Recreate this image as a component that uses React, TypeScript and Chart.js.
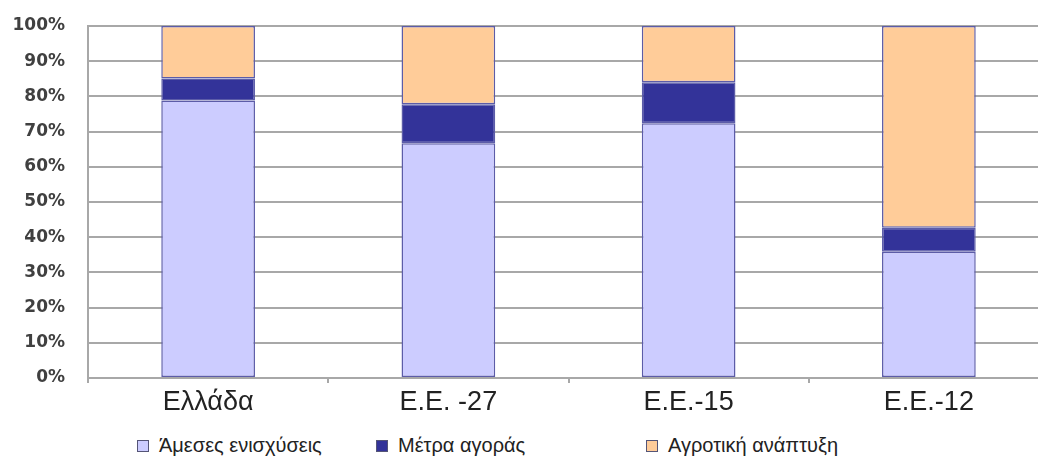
import React, { useEffect, useRef } from "react";
import { Chart, registerables } from "chart.js";
Chart.register(...registerables);

const categories = ["Ελλάδα", "Ε.Ε. -27", "Ε.Ε.-15", "Ε.Ε.-12"];
const seriesNames = ["Άμεσες ενισχύσεις", "Μέτρα αγοράς", "Αγροτική ανάπτυξη"];
const directSupport = [78.8, 66.7, 72.4, 35.9];
const marketMeasures = [6.3, 11.1, 11.6, 6.8];
const ruralDevelopment = [14.9, 22.2, 16.0, 57.3];
const yTicks = [0, 10, 20, 30, 40, 50, 60, 70, 80, 90, 100];

const colors = ["#ccccff", "#333399", "#ffcc99"];
const GRID = "#a8a8a8";
const NARROW = '"Liberation Sans Narrow", "Arial Narrow", "Liberation Sans", Arial, sans-serif';

export default function App() {
  const ref = useRef<HTMLCanvasElement | null>(null);
  useEffect(() => {
    document.body.style.margin = "0";
    document.body.style.overflow = "hidden";
    const ctx = ref.current!;
    const values = [directSupport, marketMeasures, ruralDevelopment];
    const chart = new Chart(ctx, {
      type: "bar",
      data: {
        labels: categories,
        datasets: seriesNames.map((name, i) => ({
          label: name,
          data: values[i],
          backgroundColor: colors[i],
          borderColor: "#5c5ca8",
          borderWidth: 1.5,
          borderSkipped: false,
          barPercentage: 0.39,
          categoryPercentage: 1.0,
        })),
      },
      options: {
        animation: false,
        responsive: false,
        devicePixelRatio: 1,
        layout: { padding: { top: 26, right: 11, left: 0, bottom: 0 } },
        plugins: { legend: { display: false }, tooltip: { enabled: false } },
        scales: {
          x: {
            stacked: true,
            afterFit: (s: any) => {
              s.height = 42;
            },
            grid: {
              drawOnChartArea: false,
              drawTicks: true,
              tickLength: 5,
              color: GRID,
              lineWidth: 2,
            },
            border: { display: true, color: GRID, width: 2 },
            ticks: {
              color: "#222",
              padding: 3,
              font: { family: NARROW, size: 27 },
            },
          },
          y: {
            stacked: true,
            min: 0,
            max: 100,
            afterFit: (s: any) => {
              s.width = 88;
              s.paddingTop = 0;
              s.paddingBottom = 0;
            },
            afterBuildTicks: (s: any) => {
              s.ticks = yTicks.map((v) => ({ value: v }));
            },
            grid: { color: GRID, lineWidth: 2, drawTicks: false },
            border: { display: true, color: GRID, width: 2 },
            ticks: {
              color: "#404040",
              padding: 23,
              font: { family: '"DejaVu Sans", sans-serif', size: 17, weight: "bold" },
              callback: (v: any) => `${v}%`,
            },
          },
        },
      },
    });
    return () => chart.destroy();
  }, []);

  const legendPos = [137, 376, 646];
  return (
    <div style={{ position: "relative", width: 1060, height: 474, background: "#fff" }}>
      <canvas ref={ref} width={1060} height={420} style={{ width: 1060, height: 420, display: "block" }} />
      {seriesNames.map((name, i) => (
        <div
          key={name}
          style={{
            position: "absolute",
            left: legendPos[i],
            top: 434,
            display: "flex",
            alignItems: "center",
            fontFamily: NARROW,
            fontSize: 20,
            color: "#222",
            whiteSpace: "nowrap",
          }}
        >
          <span
            style={{
              display: "inline-block",
              width: 10,
              height: 10,
              background: colors[i],
              border: "1px solid #555577",
              marginRight: 10,
            }}
          />
          {name}
        </div>
      ))}
    </div>
  );
}
